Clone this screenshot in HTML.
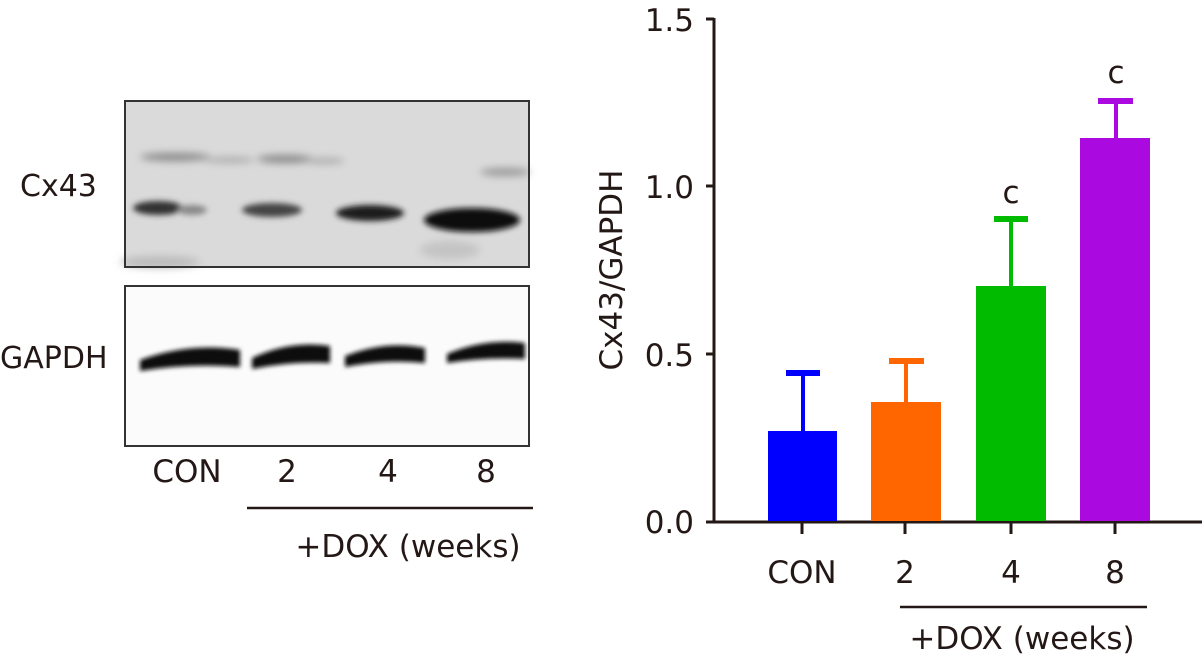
<!DOCTYPE html>
<html><head><meta charset="utf-8"><style>
html,body{margin:0;padding:0;background:#fff;}
svg{display:block;}
text{font-family:"DejaVu Sans","Liberation Sans",sans-serif;fill:#231815;}
</style></head><body>
<svg width="1202" height="664" viewBox="0 0 1202 664" xmlns="http://www.w3.org/2000/svg">
<defs>
<filter id="b3" x="-50%" y="-100%" width="200%" height="300%"><feGaussianBlur stdDeviation="3"/></filter>
<filter id="b5" x="-50%" y="-100%" width="200%" height="300%"><feGaussianBlur stdDeviation="4"/></filter>
<filter id="b2" x="-50%" y="-100%" width="200%" height="300%"><feGaussianBlur stdDeviation="2"/></filter>
</defs>
<!-- Blot 1 -->
<rect x="125" y="101" width="404" height="166" fill="#dadada" stroke="#333" stroke-width="2"/>
<g filter="url(#b5)">
<ellipse cx="175" cy="157" rx="35" ry="4" fill="#888"/>
<ellipse cx="230" cy="160" rx="25" ry="3" fill="#aaa"/>
<ellipse cx="285" cy="159" rx="28" ry="4" fill="#888"/>
<ellipse cx="325" cy="161" rx="20" ry="3" fill="#aaa"/>
<ellipse cx="505" cy="172" rx="25" ry="4" fill="#999"/>
<ellipse cx="450" cy="250" rx="30" ry="9" fill="#c4c4c4"/>
<ellipse cx="160" cy="262" rx="40" ry="6" fill="#bbb"/>
</g>
<g filter="url(#b3)">
<ellipse cx="158" cy="208" rx="25" ry="7" fill="#333"/>
<ellipse cx="192" cy="210" rx="15" ry="5" fill="#888"/>
<ellipse cx="272" cy="210" rx="30" ry="7" fill="#444"/>
<ellipse cx="370" cy="213" rx="34" ry="8" fill="#1a1a1a"/>
<ellipse cx="472" cy="220" rx="48" ry="12" fill="#0a0a0a"/>
</g>
<rect x="125" y="101" width="404" height="166" fill="none" stroke="#333" stroke-width="2"/>
<!-- Blot 2 -->
<rect x="125" y="286" width="404" height="160" fill="#fbfbfb" stroke="#333" stroke-width="2"/>
<g filter="url(#b2)">
<path d="M140 360 Q190 342 240 350 L240 367 Q190 363 140 371Z" fill="#111"/>
<path d="M252 358 Q290 340 330 346 L330 363 Q290 361 252 369Z" fill="#111"/>
<path d="M345 356 Q385 340 425 348 L425 363 Q385 359 345 367Z" fill="#111"/>
<path d="M447 354 Q485 338 525 343 L525 359 Q485 357 447 363Z" fill="#111"/>
</g>
<rect x="125" y="286" width="404" height="160" fill="none" stroke="#333" stroke-width="2"/>
<text x="20" y="196" font-size="30">Cx43</text>
<text x="0" y="368" font-size="30">GAPDH</text>
<g font-size="31" text-anchor="middle">
<text x="187" y="482">CON</text>
<text x="287" y="482">2</text>
<text x="388" y="482">4</text>
<text x="486" y="482">8</text>
<text x="408" y="557">+DOX (weeks)</text>
</g>
<line x1="247" y1="508" x2="533" y2="508" stroke="#231815" stroke-width="2.5"/>
<!-- Chart -->
<g stroke="#231815" stroke-width="3" fill="none">
<line x1="714" y1="18" x2="714" y2="522"/>
<line x1="706" y1="522" x2="1202" y2="522"/>
<line x1="706" y1="19" x2="714" y2="19"/>
<line x1="706" y1="186" x2="714" y2="186"/>
<line x1="706" y1="354" x2="714" y2="354"/>
<line x1="802" y1="522" x2="802" y2="534"/>
<line x1="905" y1="522" x2="905" y2="534"/>
<line x1="1011" y1="522" x2="1011" y2="534"/>
<line x1="1115" y1="522" x2="1115" y2="534"/>
</g>
<g font-size="31" text-anchor="end">
<text x="694" y="31">1.5</text>
<text x="694" y="198">1.0</text>
<text x="694" y="366">0.5</text>
<text x="694" y="533">0.0</text>
</g>
<text transform="translate(622,270) rotate(-90)" font-size="31" text-anchor="middle">Cx43/GAPDH</text>
<!-- bars -->
<g stroke-width="4">
<line x1="803" y1="373" x2="803" y2="431" stroke="#0000ff"/><line x1="786" y1="373" x2="820" y2="373" stroke="#0000ff" stroke-width="6"/>
<rect x="768" y="431" width="69" height="90" fill="#0000ff"/>
<line x1="906" y1="361" x2="906" y2="402" stroke="#ff6600"/><line x1="889" y1="361" x2="924" y2="361" stroke="#ff6600" stroke-width="6"/>
<rect x="871" y="402" width="70" height="119" fill="#ff6600"/>
<line x1="1011" y1="219" x2="1011" y2="286" stroke="#00bb00"/><line x1="994" y1="219" x2="1028" y2="219" stroke="#00bb00" stroke-width="6"/>
<rect x="976" y="286" width="70" height="235" fill="#00bb00"/>
<line x1="1116" y1="101" x2="1116" y2="138" stroke="#aa0adf"/><line x1="1098" y1="101" x2="1133" y2="101" stroke="#aa0adf" stroke-width="6"/>
<rect x="1080" y="138" width="70" height="383" fill="#aa0adf"/>
</g>
<g font-size="31" text-anchor="middle">
<text x="1011" y="203">c</text>
<text x="1116" y="83">c</text>
<text x="802" y="583">CON</text>
<text x="905" y="583">2</text>
<text x="1011" y="583">4</text>
<text x="1115" y="583">8</text>
<text x="1022" y="649">+DOX (weeks)</text>
</g>
<line x1="900" y1="607" x2="1147" y2="607" stroke="#231815" stroke-width="2.5"/>
</svg>
</body></html>
